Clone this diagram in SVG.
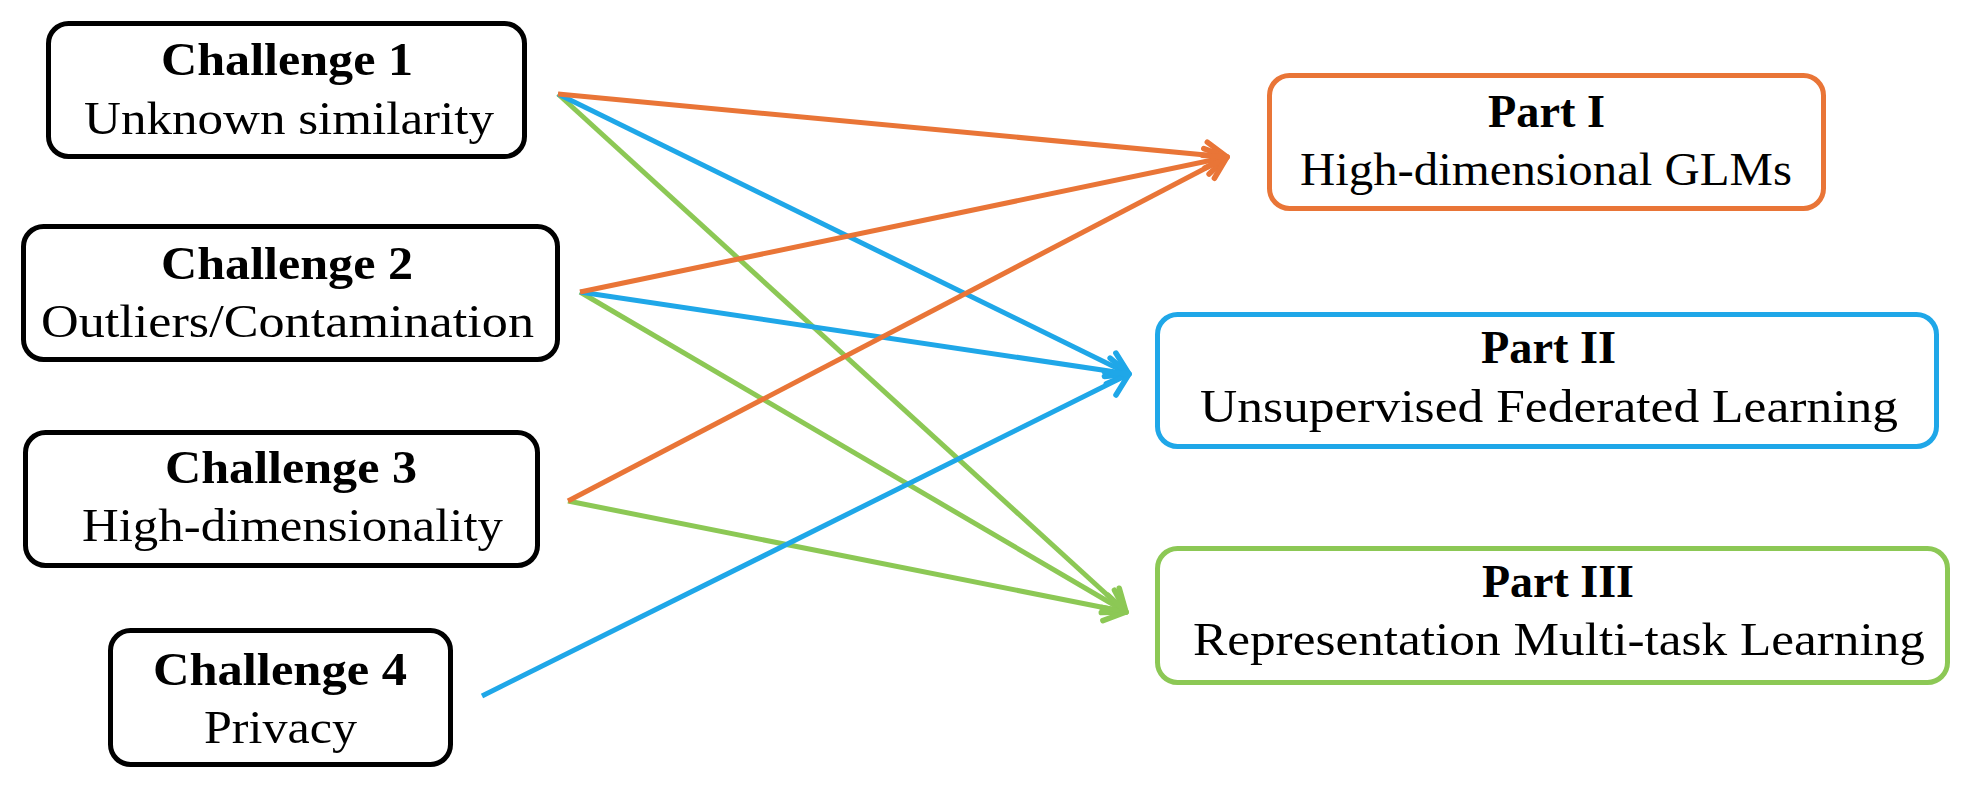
<svg xmlns="http://www.w3.org/2000/svg" width="1968" height="794" viewBox="0 0 1968 794">
<style>
.box{fill:#fff;stroke-width:5}
.ch{stroke:#000}
.p1{stroke:#E97537}
.p2{stroke:#1FA7E8}
.p3{stroke:#8CC855}
.t{font-family:"Liberation Serif","Times New Roman",serif;font-size:47px;fill:#000;text-anchor:middle}
.b{font-weight:bold}
.c{fill:none;stroke-width:5}
</style>
<defs>
<marker id="aO" markerUnits="userSpaceOnUse" markerWidth="30" markerHeight="34" viewBox="0 0 30 34" refX="26" refY="17" orient="auto">
<path d="M5,4 L26,17 L5,30" fill="none" stroke="#E97537" stroke-width="5.5" stroke-linecap="round" stroke-linejoin="round"/>
</marker>
<marker id="aB" markerUnits="userSpaceOnUse" markerWidth="30" markerHeight="34" viewBox="0 0 30 34" refX="26" refY="17" orient="auto">
<path d="M5,4 L26,17 L5,30" fill="none" stroke="#1FA7E8" stroke-width="5.5" stroke-linecap="round" stroke-linejoin="round"/>
</marker>
<marker id="aG" markerUnits="userSpaceOnUse" markerWidth="30" markerHeight="34" viewBox="0 0 30 34" refX="26" refY="17" orient="auto">
<path d="M5,4 L26,17 L5,30" fill="none" stroke="#8CC855" stroke-width="5.5" stroke-linecap="round" stroke-linejoin="round"/>
</marker>
</defs>
<rect width="1968" height="794" fill="#fff"/>

<g id="connectors">
<line class="c" stroke="#8CC855" x1="558" y1="94" x2="1126" y2="612" marker-end="url(#aG)"/>
<line class="c" stroke="#8CC855" x1="580" y1="292" x2="1126" y2="612" marker-end="url(#aG)"/>
<line class="c" stroke="#8CC855" x1="568" y1="501" x2="1126" y2="612" marker-end="url(#aG)"/>
<line class="c" stroke="#1FA7E8" x1="558" y1="94" x2="1129" y2="374" marker-end="url(#aB)"/>
<line class="c" stroke="#1FA7E8" x1="580" y1="292" x2="1129" y2="374" marker-end="url(#aB)"/>
<line class="c" stroke="#1FA7E8" x1="482" y1="696" x2="1129" y2="374" marker-end="url(#aB)"/>
<line class="c" stroke="#E97537" x1="558" y1="94" x2="1227" y2="157" marker-end="url(#aO)"/>
<line class="c" stroke="#E97537" x1="580" y1="292" x2="1227" y2="157" marker-end="url(#aO)"/>
<line class="c" stroke="#E97537" x1="568" y1="501" x2="1227" y2="157" marker-end="url(#aO)"/>
</g>

<g id="challenge1">
<rect class="box ch" x="48.5" y="23.5" width="476" height="133" rx="20"/>
<text class="t b" x="287" y="75" textLength="252" lengthAdjust="spacingAndGlyphs">Challenge 1</text>
<text class="t" x="289" y="134" textLength="410" lengthAdjust="spacingAndGlyphs">Unknown similarity</text>
</g>
<g id="challenge2">
<rect class="box ch" x="23.5" y="226.5" width="534" height="133" rx="20"/>
<text class="t b" x="287" y="279" textLength="252" lengthAdjust="spacingAndGlyphs">Challenge 2</text>
<text class="t" x="287.5" y="337" textLength="493" lengthAdjust="spacingAndGlyphs">Outliers/Contamination</text>
</g>
<g id="challenge3">
<rect class="box ch" x="25.5" y="432.5" width="512" height="133" rx="20"/>
<text class="t b" x="291" y="483" textLength="252" lengthAdjust="spacingAndGlyphs">Challenge 3</text>
<text class="t" x="292.5" y="541" textLength="421" lengthAdjust="spacingAndGlyphs">High-dimensionality</text>
</g>
<g id="challenge4">
<rect class="box ch" x="110.5" y="630.5" width="340" height="134" rx="20"/>
<text class="t b" x="280" y="685" textLength="254" lengthAdjust="spacingAndGlyphs">Challenge 4</text>
<text class="t" x="280.5" y="743" textLength="153" lengthAdjust="spacingAndGlyphs">Privacy</text>
</g>

<g id="part1">
<rect class="box p1" x="1269.5" y="75.5" width="554" height="133" rx="20"/>
<text class="t b" x="1546.5" y="127" textLength="117" lengthAdjust="spacingAndGlyphs">Part I</text>
<text class="t" x="1546" y="185" textLength="492" lengthAdjust="spacingAndGlyphs">High-dimensional GLMs</text>
</g>
<g id="part2">
<rect class="box p2" x="1157.5" y="314.5" width="779" height="132" rx="20"/>
<text class="t b" x="1548.5" y="363" textLength="135" lengthAdjust="spacingAndGlyphs">Part II</text>
<text class="t" x="1549" y="422" textLength="698" lengthAdjust="spacingAndGlyphs">Unsupervised Federated Learning</text>
</g>
<g id="part3">
<rect class="box p3" x="1157.5" y="548.5" width="790" height="134" rx="20"/>
<text class="t b" x="1558" y="597" textLength="152" lengthAdjust="spacingAndGlyphs">Part III</text>
<text class="t" x="1559" y="655" textLength="732" lengthAdjust="spacingAndGlyphs">Representation Multi-task Learning</text>
</g>
</svg>
